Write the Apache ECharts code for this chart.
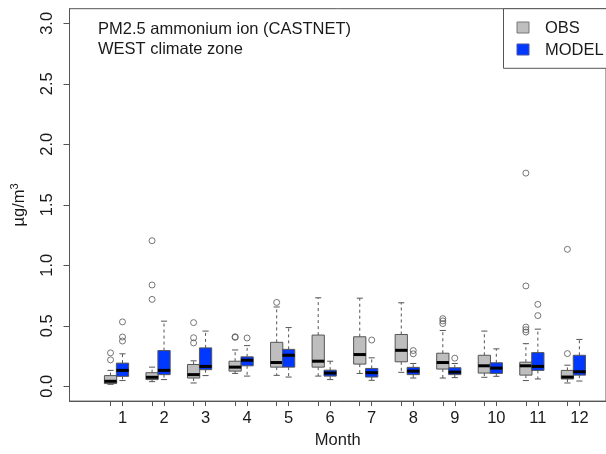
<!DOCTYPE html>
<html>
<head>
<meta charset="utf-8">
<script src="https://cdn.jsdelivr.net/npm/echarts@6/dist/echarts.min.js"></script>
<style>html,body{margin:0;padding:0;background:#fff}#c{width:606px;height:454px}</style>
</head>
<body>
<div id="c"></div>
<script>
// ---- data ----
const months = [1,2,3,4,5,6,7,8,9,10,11,12];
// [lowerWhisker, Q1, median, Q3, upperWhisker]
const obsStats = [
  [0.016,0.022,0.041,0.088,0.131],
  [0.038,0.055,0.074,0.112,0.158],
  [0.027,0.068,0.096,0.180,0.210],
  [0.106,0.125,0.158,0.207,0.300],
  [0.090,0.158,0.196,0.363,0.655],
  [0.084,0.158,0.207,0.423,0.731],
  [0.106,0.183,0.262,0.409,0.728],
  [0.115,0.202,0.297,0.428,0.690],
  [0.068,0.142,0.196,0.273,0.461],
  [0.074,0.109,0.169,0.256,0.456],
  [0.047,0.092,0.169,0.199,0.352],
  [0.027,0.060,0.076,0.131,0.174]
];
const modelStats = [
  [0.047,0.082,0.131,0.191,0.268],
  [0.055,0.096,0.131,0.295,0.538],
  [0.088,0.137,0.164,0.317,0.456],
  [0.084,0.169,0.215,0.243,0.336],
  [0.076,0.158,0.256,0.305,0.485],
  [0.055,0.084,0.109,0.133,0.207],
  [0.049,0.076,0.112,0.147,0.235],
  [0.068,0.096,0.125,0.156,0.188],
  [0.071,0.096,0.117,0.153,0.188],
  [0.082,0.106,0.150,0.194,0.309],
  [0.060,0.131,0.164,0.278,0.472],
  [0.043,0.092,0.120,0.256,0.387]
];
// outliers: [month, value]
const obsOutliers = [
  [1,0.218],[1,0.276],
  [2,0.718],[2,0.837],[2,1.203],
  [3,0.358],[3,0.401],[3,0.526],
  [4,0.404],[4,0.409],
  [5,0.693],
  [9,0.518],[9,0.540],[9,0.559],
  [11,0.448],[11,0.467],[11,0.489],[11,0.829],[11,1.762],
  [12,0.270],[12,1.132]
];
const modelOutliers = [
  [1,0.374],[1,0.407],[1,0.532],
  [4,0.399],
  [7,0.382],
  [8,0.268],[8,0.295],
  [9,0.232],
  [11,0.584],[11,0.677]
];
const yTicks = [0,0.5,1.0,1.5,2.0,2.5,3.0];
const seriesNames = ['OBS','MODEL'];

// ---- layout helpers (not data) ----
const OFF = 0.288;      // obs box offset left of the month position
const BOXW = 0.295;     // box width in axis units
const obsColor = '#bebebe', modelColor = '#0038ff';
const lineColor = '#555';
const font = 'Liberation Sans, Arial, sans-serif';

const obsData = months.map((m,i)=>[m-OFF].concat(obsStats[i]));
const modelData = months.map((m,i)=>[m].concat(modelStats[i]));
const obsOutData = obsOutliers.map(d=>[d[0]-OFF,d[1]]);
const modelOutData = modelOutliers.map(d=>[d[0],d[1]]);

function makeRender(fill){
  return function(params, api){
    const x = api.value(0);
    const lw=api.value(1), q1=api.value(2), md=api.value(3), q3=api.value(4), uw=api.value(5);
    const w = api.size([BOXW,0])[0];
    const hw = w/2, cw = w/4;
    const c = api.coord([x,md])[0];
    const y = v => api.coord([x,v])[1];
    const dash = {stroke: lineColor, lineWidth: 1, lineDash: [3,3]};
    const solid = {stroke: lineColor, lineWidth: 1};
    return {type:'group', children:[
      {type:'line', shape:{x1:c,y1:y(q3),x2:c,y2:y(uw)}, style:dash},
      {type:'line', shape:{x1:c,y1:y(q1),x2:c,y2:y(lw)}, style:dash},
      {type:'line', shape:{x1:c-cw,y1:y(uw),x2:c+cw,y2:y(uw)}, style:solid},
      {type:'line', shape:{x1:c-cw,y1:y(lw),x2:c+cw,y2:y(lw)}, style:solid},
      {type:'rect', shape:{x:c-hw,y:y(q3),width:w,height:y(q1)-y(q3)}, style:{fill:fill, stroke:lineColor, lineWidth:1}},
      {type:'line', shape:{x1:c-hw,y1:y(md),x2:c+hw,y2:y(md)}, style:{stroke:'#000', lineWidth:3}}
    ]};
  };
}

const chart = echarts.init(document.getElementById('c'), null, {renderer:'canvas'});
chart.setOption({
  animation:false,
  backgroundColor:'#fff',
  grid:{left:69.5, right:-2, top:8.7, bottom:49, show:true, borderColor:lineColor, borderWidth:1, backgroundColor:'transparent'},
  xAxis:{
    type:'value', min:-0.276, max:12.641,
    splitLine:{show:false},
    axisLine:{show:true, onZero:false, lineStyle:{color:lineColor}},
    axisTick:{show:true, inside:false, length:5, lineStyle:{color:lineColor},
      customValues: months.flatMap(m=>[m-OFF,m])},
    axisLabel:{customValues: months, margin:9, fontSize:16.5, color:'#1a1a1a', fontFamily:font,
      formatter: v=>String(Math.round(v))},
    name:'Month', nameLocation:'middle', nameGap:30,
    nameTextStyle:{fontSize:16.5, color:'#1a1a1a', fontFamily:font}
  },
  yAxis:{
    type:'value', min:-0.1228, max:3.121,
    splitLine:{show:false},
    axisLine:{show:true, onZero:false, lineStyle:{color:lineColor}},
    axisTick:{show:true, length:6, lineStyle:{color:lineColor}, customValues:yTicks},
    axisLabel:{customValues:yTicks, rotate:90, margin:14, fontSize:16.5, color:'#1a1a1a', fontFamily:font,
      formatter: v=>v.toFixed(1)},
    name:'µg/m{sup|3}', nameLocation:'middle', nameGap:41, nameRotate:90,
    nameTextStyle:{fontSize:16.5, color:'#1a1a1a', fontFamily:font,
      rich:{sup:{fontSize:11, verticalAlign:'top', padding:[0,0,8,0], color:'#1a1a1a', fontFamily:font}}}
  },
  series:[
    {name:seriesNames[0], type:'custom', renderItem:makeRender(obsColor), data:obsData,
      encode:{x:0, y:[1,2,3,4,5]}, itemStyle:{color:obsColor}, z:2},
    {name:seriesNames[1], type:'custom', renderItem:makeRender(modelColor), data:modelData,
      encode:{x:0, y:[1,2,3,4,5]}, itemStyle:{color:modelColor}, z:2},
    {type:'scatter', data:obsOutData, symbol:'circle', symbolSize:6,
      itemStyle:{color:'transparent', borderColor:lineColor, borderWidth:1}, z:3},
    {type:'scatter', data:modelOutData, symbol:'circle', symbolSize:6,
      itemStyle:{color:'transparent', borderColor:lineColor, borderWidth:1}, z:3}
  ],
  graphic:[
    {type:'text', left:98, top:19, style:{text:'PM2.5 ammonium ion (CASTNET)\nWEST climate zone', fontSize:16.5, lineHeight:20, fill:'#1a1a1a', fontFamily:font}},
    {type:'rect', shape:{x:503.5, y:8.7, width:120, height:59.6}, style:{fill:'#fff', stroke:lineColor, lineWidth:1}, z:10},
    {type:'rect', shape:{x:517, y:22, width:12, height:11}, style:{fill:obsColor, stroke:'#777', lineWidth:1}, z:11},
    {type:'rect', shape:{x:517, y:44, width:12, height:11}, style:{fill:modelColor, stroke:'#4455aa', lineWidth:1}, z:11},
    {type:'text', x:545, y:28, style:{text:seriesNames[0], fontSize:16.5, fill:'#1a1a1a', fontFamily:font, verticalAlign:'middle'}, z:11},
    {type:'text', x:545, y:50, style:{text:seriesNames[1], fontSize:16.5, fill:'#1a1a1a', fontFamily:font, verticalAlign:'middle'}, z:11}
  ]
});
</script>
</body>
</html>
